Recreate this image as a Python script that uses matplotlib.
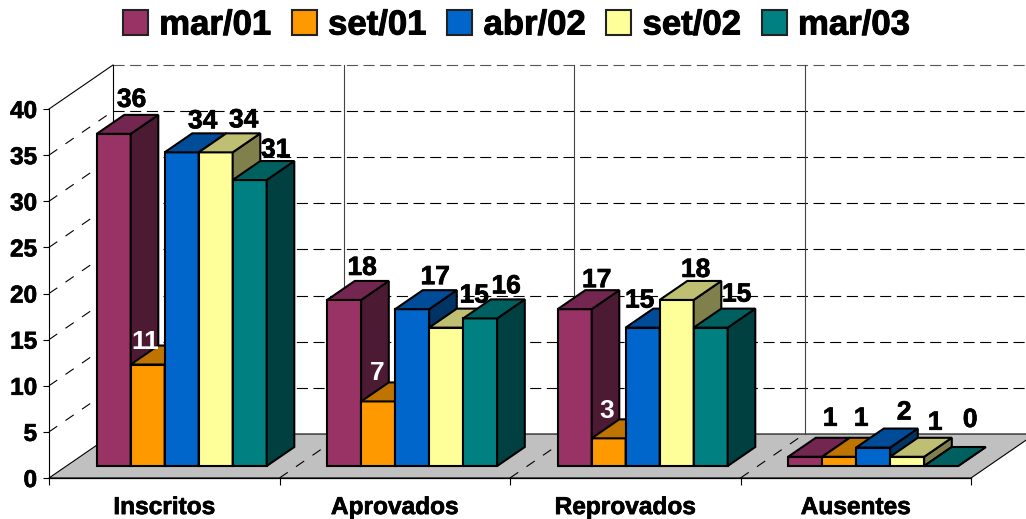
import matplotlib
matplotlib.use('Agg')
import matplotlib.pyplot as plt
from matplotlib.patches import Polygon, Patch
import matplotlib.patheffects as pe

plt.rcParams['font.family'] = ['Liberation Sans', 'DejaVu Sans']
plt.rcParams['font.weight'] = 'bold'

categories = ['Inscritos', 'Aprovados', 'Reprovados', 'Ausentes']
series_names = ['mar/01', 'set/01', 'abr/02', 'set/02', 'mar/03']
mar01 = [36, 18, 17, 1]
set01 = [11, 7, 3, 1]
abr02 = [34, 17, 15, 2]
set02 = [34, 15, 18, 1]
mar03 = [31, 16, 15, 0]
series = [mar01, set01, abr02, set02, mar03]
yticks = [0, 5, 10, 15, 20, 25, 30, 35, 40]

# front, top, side colours of each series
front = ['#993366', '#FF9900', '#0066CC', '#FFFF99', '#008080']
top = ['#732650', '#BF7300', '#004C99', '#BFBF73', '#006060']
side = ['#4D1A33', '#804D00', '#003366', '#80804D', '#004040']

# label nudges in pixels, one row per category
label_dx = [[18, -2, 21, 28, 26], [18, -1, 23, 28, 26], [22, -2, -3, 19, 26], [25, 22, 31, 28, 29]]
label_dy = [[8, -3, 5, 6, 4], [6, 2, 6, 6, 6], [3, 1, 1, 4, 7], [12, 12, 9, 8, 20]]

W, H = 1026, 519
px_x = 922 / 4     # pixels per category
px_y = 369 / 40    # pixels per y unit
depth_x = 64 / px_x
depth_y = 44 / px_y
bar_w = 34 / px_x
bar_start = 30.2 / px_x
d0 = 12 / 44       # bar front, as part of the floor depth
d1 = 31 / 44       # bar back
edge = 1.5
heavy = [pe.withStroke(linewidth=0.5, foreground='black')]


def proj(x, y, d):
    return x + d * depth_x, y + d * depth_y


fig = plt.figure(figsize=(W / 100, H / 100), dpi=100)
ax = fig.add_axes([49 / W, (H - 478) / H, 922 / W, 369 / H])
ax.set_xlim(0, 4)
ax.set_ylim(0, 40)
ax.patch.set_visible(False)
for s in ['top', 'right']:
    ax.spines[s].set_visible(False)
ax.spines['left'].set_linewidth(0.8)
ax.spines['bottom'].set_linewidth(0.9)

# floor
floor = [proj(0, 0, 0), proj(4, 0, 0), proj(4, 0, 1), proj(0, 0, 1)]
ax.add_patch(Polygon(floor, fc='#C0C0C0', ec='black', lw=0.8, clip_on=False, zorder=1))

# walls
for v in yticks[1:]:
    c = '#555555' if v == 40 else 'black'
    x0, y0 = proj(0, v, 1)
    x1, y1 = proj(4, v, 1)
    ax.plot([x0, x1], [y0, y1], color=c, lw=0.8, ls=(0, (10, 5)), clip_on=False, zorder=1.5)
    x2, y2 = proj(0, v, 0)
    if v < 40:
        ax.plot([x2, x0], [y2, y0], color='black', lw=0.8, ls=(0, (9, 9)), clip_on=False, zorder=1.5)
    else:
        ax.plot([x2, x0], [y2, y0], color='black', lw=0.8, clip_on=False, zorder=1.5)

x0, y0 = proj(0, 0, 1)
x1, y1 = proj(0, 40, 1)
ax.plot([x0, x1], [y0, y1], color='black', lw=0.8, clip_on=False, zorder=1.5)
for i in range(1, 4):
    xa, ya = proj(i, 0, 0)
    xb, yb = proj(i, 0, 1)
    ax.plot([xa, xb], [ya, yb], color='black', lw=0.8, ls=(0, (9, 9)), clip_on=False, zorder=1.5)
    xc, yc = proj(i, 40, 1)
    ax.plot([xb, xc], [yb, yc], color='#444444', lw=0.8, clip_on=False, zorder=1.5)

# bars, left to right so the later ones hide the earlier sides
z = 3
for c in range(len(categories)):
    for n, vals in enumerate(series):
        v = vals[c]
        x = c + bar_start + n * bar_w
        fx, fy = proj(x, 0, d0)
        ax.bar(fx, v, width=bar_w, bottom=fy, align='edge', color=front[n], ec='black',
               lw=edge, clip_on=False, zorder=z)
        tf = [proj(x, v, d0), proj(x + bar_w, v, d0), proj(x + bar_w, v, d1), proj(x, v, d1)]
        sd = [proj(x + bar_w, 0, d0), proj(x + bar_w, v, d0), proj(x + bar_w, v, d1), proj(x + bar_w, 0, d1)]
        ax.add_patch(Polygon(sd, fc=side[n], ec='black', lw=edge, joinstyle='miter', clip_on=False, zorder=z))
        ax.add_patch(Polygon(tf, fc=top[n], ec='black', lw=edge, joinstyle='miter', clip_on=False, zorder=z))
        z += 1

# data labels
for c in range(len(categories)):
    for n, vals in enumerate(series):
        v = vals[c]
        x = c + bar_start + (n + 0.5) * bar_w
        lx = proj(x, v, d0)[0]
        ly = proj(x, v, d1)[1]
        white = n == 1 and c < 3
        t = ax.annotate(str(v), (lx, ly), xytext=(label_dx[c][n], label_dy[c][n]), textcoords='offset pixels',
                        ha='center', va='baseline', fontsize=19, fontweight='bold',
                        color='white' if white else 'black', zorder=50, annotation_clip=False)
        if not white:
            t.set_path_effects(heavy)

ax.set_yticks(yticks)
ax.tick_params(axis='y', length=4.3, width=0.8, pad=4.3, labelsize=17.5)
ax.set_xticks([0, 1, 2, 3, 4])
ax.set_xticklabels([])
ax.set_xticks([0.5, 1.5, 2.5, 3.5], labels=categories, minor=True)
ax.tick_params(axis='x', which='major', length=5, width=0.8)
ax.tick_params(axis='x', which='minor', length=0, pad=13, labelsize=17.6)
for t in ax.get_yticklabels() + ax.get_xticklabels(minor=True):
    t.set_path_effects(heavy)

handles = [Patch(fc=front[n], ec='#222222', lw=1.5) for n in range(5)]
leg = fig.legend(handles, series_names, ncol=5, loc='center', bbox_to_anchor=(516.5 / W, (H - 25) / H),
                 frameon=False, fontsize=25, handlelength=0.72, handleheight=0.72, handletextpad=0.32,
                 columnspacing=0.6, borderpad=0, borderaxespad=0)
for t in leg.get_texts():
    t.set_path_effects([pe.withStroke(linewidth=0.7, foreground='black')])

fig.savefig('out.png', dpi=100)
